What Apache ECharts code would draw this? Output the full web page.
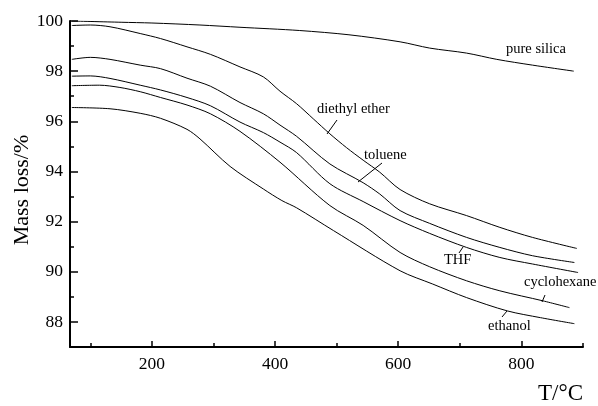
<!DOCTYPE html>
<html>
<head>
<meta charset="utf-8">
<script src="https://cdn.jsdelivr.net/npm/echarts@6/dist/echarts.min.js"></script>
<style>
    html, body { margin: 0; padding: 0; background: #fff; }
    #chart { width: 598px; height: 406px; }
</style>
</head>
<body>
<div id="chart"></div>
<script>
// TG curves, mass (%) vs temperature (°C)
const pureSilica = [[70, 100.0], [150, 99.95], [200, 99.92], [278, 99.84], [343, 99.75], [440, 99.62], [520, 99.45], [603, 99.17], [651, 98.92], [711, 98.72], [760, 98.47], [818, 98.24], [885, 98.0]]
const diethylEther = [[70, 99.82], [100, 99.84], [132, 99.77], [181, 99.5], [214, 99.3], [257, 98.97], [295, 98.67], [343, 98.17], [381, 97.77], [408, 97.2], [435, 96.7], [462, 96.1], [489, 95.5], [516, 94.95], [543, 94.45], [570, 93.97], [603, 93.28], [651, 92.71], [711, 92.24], [765, 91.77], [818, 91.37], [890, 90.93]]
const toluene = [[70, 98.47], [100, 98.55], [132, 98.47], [181, 98.24], [214, 98.1], [257, 97.72], [295, 97.4], [343, 96.75], [381, 96.3], [408, 95.85], [435, 95.4], [489, 94.3], [543, 93.55], [570, 93.1], [603, 92.44], [651, 91.93], [711, 91.37], [765, 90.97], [818, 90.64], [886, 90.37]]
const thf = [[70, 97.8], [100, 97.81], [132, 97.71], [181, 97.44], [214, 97.25], [257, 96.95], [295, 96.62], [343, 95.97], [381, 95.55], [408, 95.17], [435, 94.75], [489, 93.51], [543, 92.8], [603, 92.04], [651, 91.53], [711, 90.97], [765, 90.57], [818, 90.31], [892, 89.97]]
const cyclohexane = [[70, 97.42], [115, 97.44], [148, 97.35], [181, 97.18], [214, 96.95], [257, 96.65], [295, 96.3], [343, 95.6], [408, 94.37], [489, 92.64], [543, 91.85], [603, 90.77], [651, 90.2], [711, 89.64], [765, 89.24], [835, 88.84], [878, 88.57]]
const ethanol = [[70, 96.55], [132, 96.5], [181, 96.32], [214, 96.12], [257, 95.68], [278, 95.3], [327, 94.2], [381, 93.3], [411, 92.84], [435, 92.55], [495, 91.64], [603, 90.04], [656, 89.51], [711, 88.97], [777, 88.44], [831, 88.17], [886, 87.93]]

const seriesNames = ['pure silica', 'diethyl ether', 'toluene', 'THF', 'cyclohexane', 'ethanol']
const seriesData = [pureSilica, diethylEther, toluene, thf, cyclohexane, ethanol]

const xMajorTicks = [200, 400, 600, 800]
const xMinorTicks = [100, 300, 500, 700, 900]
const yMajorTicks = [88, 90, 92, 94, 96, 98, 100]
const yMinorTicks = [89, 91, 93, 95, 97, 99]

const font = '"Liberation Serif", "DejaVu Serif", serif'

const myChart = echarts.init(document.getElementById('chart'))

const label = (text, x, y) => ({
    type: 'text',
    left: x,
    top: y,
    style: { text: text, font: '14.5px ' + font, fill: '#000' }
})
const leader = (x1, y1, x2, y2) => ({
    type: 'line',
    shape: { x1: x1, y1: y1, x2: x2, y2: y2 },
    style: { stroke: '#000', lineWidth: 1 }
})

myChart.setOption({
    animation: false,
    backgroundColor: '#fff',
    grid: {
        left: 70,
        right: 15,
        top: 21,
        bottom: 59,
        outerBoundsMode: 'none'
    },
    xAxis: [
        {
            type: 'value',
            min: 67,
            max: 900,
            splitLine: { show: false },
            axisLine: { show: true, lineStyle: { color: '#000', width: 2 } },
            axisTick: { inside: true, length: 6, customValues: xMajorTicks, lineStyle: { color: '#000', width: 1.5 } },
            axisLabel: {
                customValues: xMajorTicks,
                margin: 8,
                color: '#000',
                fontSize: 17.5,
                fontFamily: font
            }
        },
        {
            type: 'value',
            min: 67,
            max: 900,
            position: 'bottom',
            splitLine: { show: false },
            axisLine: { show: false },
            axisTick: { inside: true, length: 4, customValues: xMinorTicks, lineStyle: { color: '#000', width: 1.5 } },
            axisLabel: { show: false }
        }
    ],
    yAxis: [
        {
            type: 'value',
            min: 87,
            max: 100,
            name: 'Mass loss/%',
            nameLocation: 'middle',
            nameGap: 37,
            nameMoveOverlap: false,
            nameTextStyle: { fontSize: 22, fontFamily: font, color: '#000', padding: [0, 0, 0, -12] },
            splitLine: { show: false },
            axisLine: { show: true, lineStyle: { color: '#000', width: 2 } },
            axisTick: { inside: true, length: 8, customValues: yMajorTicks, lineStyle: { color: '#000', width: 1.5 } },
            axisLabel: {
                customValues: yMajorTicks,
                margin: 7,
                color: '#000',
                fontSize: 17.5,
                fontFamily: font
            }
        },
        {
            type: 'value',
            min: 87,
            max: 100,
            position: 'left',
            splitLine: { show: false },
            axisLine: { show: false },
            axisTick: { inside: true, length: 4, customValues: yMinorTicks, lineStyle: { color: '#000', width: 1.5 } },
            axisLabel: { show: false }
        }
    ],
    series: seriesData.map((data, i) => ({
        name: seriesNames[i],
        type: 'line',
        data: data,
        showSymbol: false,
        smooth: 0.3,
        lineStyle: { color: '#000', width: 1 }
    })),
    graphic: [
        label('pure silica', 506, 42),
        label('diethyl ether', 317, 102),
        leader(337, 120, 327, 134),
        label('toluene', 364, 148),
        leader(382, 163, 358, 182),
        label('THF', 444, 253),
        leader(463, 247, 459, 253),
        label('cyclohexane', 524, 275),
        leader(545, 295, 542, 302),
        label('ethanol', 488, 319),
        leader(507, 311, 502, 317),
        {
            type: 'text',
            right: 15,
            top: 382,
            style: { text: 'T/°C', font: '23px ' + font, fill: '#000' }
        }
    ]
})
</script>
</body>
</html>
